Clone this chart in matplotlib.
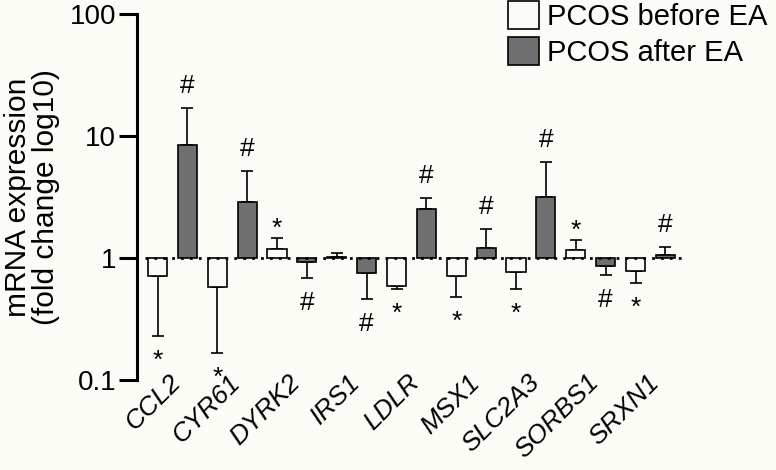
import matplotlib
matplotlib.use("Agg")
import matplotlib.pyplot as plt
import matplotlib.transforms as mtransforms
import numpy as np
from matplotlib.patches import Patch

genes = ["CCL2", "CYR61", "DYRK2", "IRS1", "LDLR", "MSX1", "SLC2A3", "SORBS1", "SRXN1"]
before_mean = [0.71, 0.58, 1.18, 1.02, 0.59, 0.71, 0.77, 1.16, 0.78]
before_err_end = [0.23, 0.166, 1.46, 1.10, 0.557, 0.48, 0.557, 1.40, 0.624]
after_mean = [8.44, 2.88, 0.93, 0.753, 2.52, 1.21, 3.16, 0.86, 1.06]
after_err_end = [16.9, 5.17, 0.686, 0.462, 3.1, 1.73, 6.13, 0.725, 1.23]
before_marks = ["*", "*", "*", "", "*", "*", "*", "*", "*"]
after_marks = ["#"] * 9
legend_labels = ["PCOS before EA", "PCOS after EA"]
ytick_vals = [0.1, 1, 10, 100]
ytick_labels = ["0.1", "1", "10", "100"]

BG = "#fcfcf7"
GRAY = "#6f6f6f"
plt.rcParams["font.family"] = ["Liberation Sans", "DejaVu Sans"]

fig = plt.figure(figsize=(7.76, 4.70), dpi=100, facecolor=BG)
ax = fig.add_axes([137/776, 1-380/470, 546/776, 366/470])
ax.set_facecolor(BG)

x = np.arange(len(genes))
off = 0.25
w = 0.32


def draw(xpos, means, ends, color, marks):
    means = np.array(means)
    ends = np.array(ends)
    ax.bar(xpos, means - 1, bottom=1, width=w, color=color, edgecolor="black",
           linewidth=1.2, zorder=3)
    up = means >= 1
    lower = np.where(up, 0, means - ends)
    upper = np.where(up, ends - means, 0)
    ax.errorbar(xpos, means, yerr=[lower, upper], fmt="none", ecolor="black",
                elinewidth=1.2, capsize=4, capthick=1.2, zorder=2)
    for xi, e, u, m in zip(xpos, ends, up, marks):
        if not m:
            continue
        if m == "#":
            dy = 11 if u else -23
        else:
            dy = 1.5 if u else -23
        ax.annotate(m, (xi, e), xytext=(0, dy), textcoords="offset points",
                    ha="center", va="baseline", fontsize=19, zorder=5)


draw(x - off, before_mean, before_err_end, BG, before_marks)
draw(x + off, after_mean, after_err_end, GRAY, after_marks)

ax.set_yscale("log")
ax.set_ylim(0.1, 100)
ax.set_xlim(-0.594, 8.544)
ax.hlines(1, -0.46, 8.544, colors="black", linestyles=(0, (1, 2.2)),
          linewidth=2, zorder=4)

ax.set_yticks(ytick_vals)
ax.set_yticklabels(ytick_labels)
ax.yaxis.set_minor_locator(matplotlib.ticker.NullLocator())
ax.tick_params(axis="y", length=13, width=2.2, labelsize=20, pad=2)
ax.set_xticks(x)
ax.set_xticklabels(genes, rotation=45, ha="right", rotation_mode="anchor",
                   fontstyle="italic", fontsize=19)
ax.tick_params(axis="x", length=0, pad=-7)
shift = mtransforms.ScaledTranslation(-4/100, 0, fig.dpi_scale_trans)
for lbl in ax.get_xticklabels():
    lbl.set_transform(lbl.get_transform() + shift)

for s in ["top", "right", "bottom"]:
    ax.spines[s].set_visible(False)
ax.spines["left"].set_linewidth(2.2)

ax.set_ylabel("mRNA expression\n(fold change log10)", fontsize=21.5, labelpad=7,
              linespacing=1.0)

handles = [Patch(facecolor=BG, edgecolor="black", linewidth=1.2),
           Patch(facecolor=GRAY, edgecolor="black", linewidth=1.2)]
fig.legend(handles, legend_labels, loc="upper left",
           bbox_to_anchor=(508/776, 1-1/470), bbox_transform=fig.transFigure,
           frameon=False, fontsize=21, handlelength=1.05, handleheight=1.1,
           handletextpad=0.3, labelspacing=0.22, borderpad=0, borderaxespad=0)

fig.savefig("out.png", dpi=100, facecolor=BG)
